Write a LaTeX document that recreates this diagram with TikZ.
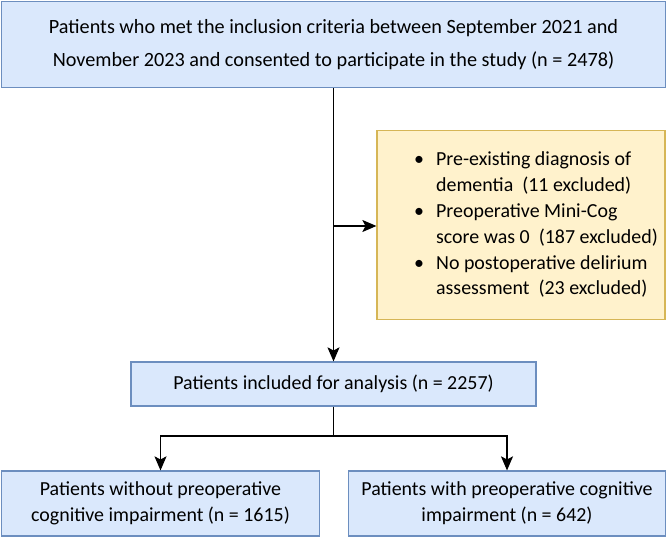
\documentclass[tikz,border=0pt]{standalone}
\usepackage{fontspec}
\setmainfont{Carlito}
\usetikzlibrary{arrows.meta}

\definecolor{boxblue}{HTML}{DAE8FC}
\definecolor{lineblue}{HTML}{6C8EBF}
\definecolor{boxyellow}{HTML}{FFF2CC}
\definecolor{lineyellow}{HTML}{D6B656}

\tikzset{
  bluebox/.style={draw=lineblue, fill=boxblue, line width=1.2bp, align=center, inner sep=0pt,
    font=\fontsize{20}{26}\selectfont},
  yellowbox/.style={draw=lineyellow, fill=boxyellow, line width=1.2bp, inner sep=0pt,
    font=\fontsize{20}{26}\selectfont},
  flowarrow/.style={-{Stealth[length=14bp,width=12bp,inset=3bp]}, line width=1.1bp, black}
}

\begin{document}
\begin{tikzpicture}[x=1bp, y=-1bp]
  \useasboundingbox (0,0) rectangle (667,537);
  \node[bluebox, minimum width=664bp, minimum height=86bp, font=\fontsize{20.3}{33}\selectfont] (all) at (333.5,44.5)
    {Patients who met the inclusion criteria between September 2021 and\\
     November 2023 and consented to participate in the study (n = 2478)};
  \node[yellowbox, minimum width=288bp, minimum height=189bp] (excl) at (521,225)
    {\hspace{30bp}\begin{tabular}{@{}c@{\hspace{12bp}}l@{}}
       \textbullet & Pre-existing diagnosis of\\
                   & dementia~ (11 excluded)\\
       \textbullet & Preoperative Mini-Cog\\
                   & score was 0~ (187 excluded)\\
       \textbullet & No postoperative delirium\\
                   & assessment~ (23 excluded)
     \end{tabular}};
  \node[bluebox, minimum width=405bp, minimum height=44bp] (incl) at (333.5,384)
    {Patients included for analysis (n = 2257)};
  \node[bluebox, minimum width=318bp, minimum height=65bp] (nopci) at (160.5,503.5)
    {Patients without preoperative\\ cognitive impairment (n = 1615)};
  \node[bluebox, minimum width=317bp, minimum height=65bp] (pci) at (507,503.5)
    {Patients with preoperative cognitive\\ impairment (n = 642)};

  \coordinate (branch) at (333.5,226);
  \coordinate (split) at (333.5,436);
  \draw[flowarrow] (all.south) -- (incl.north);
  \draw[flowarrow] (branch) -- (excl.west |- branch);
  \draw[line width=1.1bp] (incl.south) -- (split);
  \draw[flowarrow] (split) -| (nopci.north);
  \draw[flowarrow] (split) -| (pci.north);
\end{tikzpicture}
\end{document}
